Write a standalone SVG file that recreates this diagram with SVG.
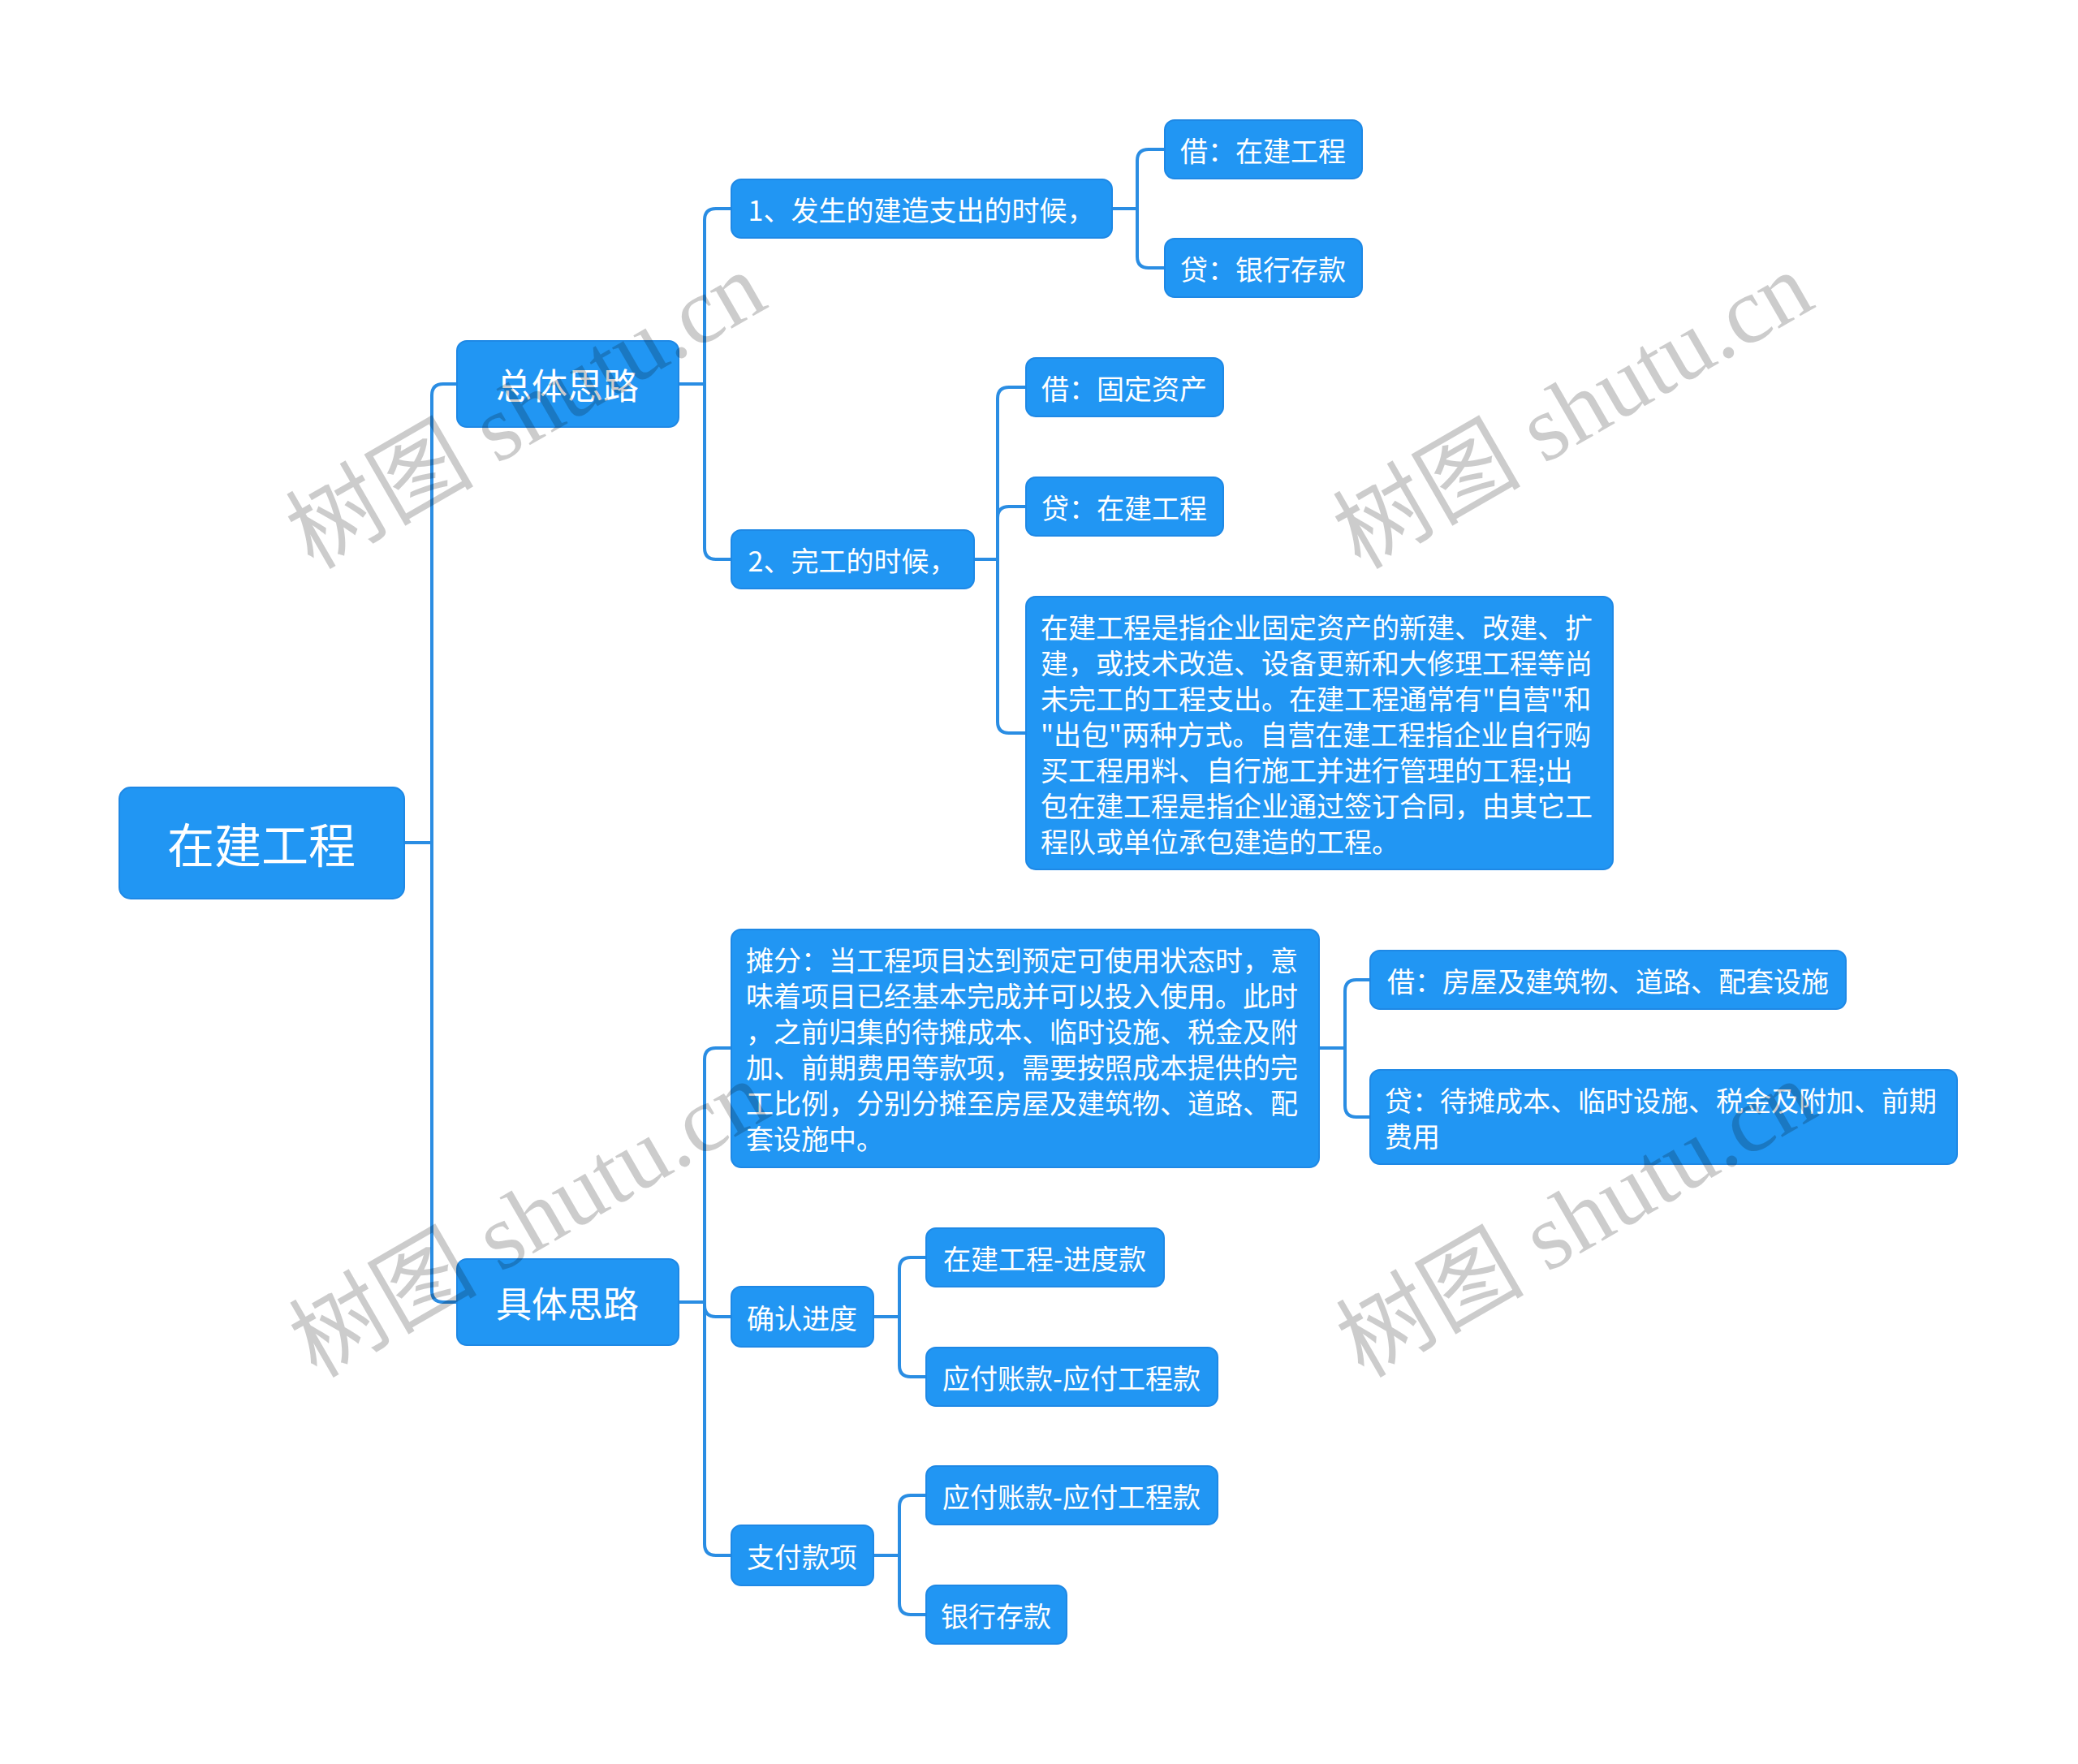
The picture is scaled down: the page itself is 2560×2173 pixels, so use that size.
<svg xmlns="http://www.w3.org/2000/svg" width="2560" height="2173" viewBox="0 0 2560 2173">
<style>
.n{fill:#2196F3;stroke:#1E88E5;stroke-width:2}
.t{font-family:"Noto Sans CJK SC","Liberation Sans",sans-serif;fill:#FFFFFF;dominant-baseline:central}
.c{text-anchor:middle}
.s34{font-size:34px}
.c path{fill:none}
.wm{font-family:"Liberation Serif","Noto Sans CJK SC",serif;font-size:116px;fill:#000;fill-opacity:0.2;text-anchor:middle;dominant-baseline:central}
</style>
<rect width="2560" height="2173" fill="#FFFFFF"/>
<g id="connectors" fill="none" stroke="#2A8DE3" stroke-width="4">
<path d="M498,1038 H532 V487 Q532,473 546,473 H563"/>
<path d="M498,1038 H532 V1590 Q532,1604 546,1604 H563"/>
<path d="M836,473 H868 V271 Q868,257 882,257 H901"/>
<path d="M836,473 H868 V675 Q868,689 882,689 H901"/>
<path d="M1370,257 H1401 V198 Q1401,184 1415,184 H1435"/>
<path d="M1370,257 H1401 V316 Q1401,330 1415,330 H1435"/>
<path d="M1200,689 H1229 V491 Q1229,477 1243,477 H1264"/>
<path d="M1200,689 H1229 V638 Q1229,624 1243,624 H1264"/>
<path d="M1200,689 H1229 V889 Q1229,903 1243,903 H1264"/>
<path d="M836,1604 H868 V1305 Q868,1291 882,1291 H901"/>
<path d="M836,1604 H868 V1608 Q868,1622 882,1622 H901"/>
<path d="M836,1604 H868 V1902 Q868,1916 882,1916 H901"/>
<path d="M1625,1291 H1657 V1221 Q1657,1207 1671,1207 H1688"/>
<path d="M1625,1291 H1657 V1362 Q1657,1376 1671,1376 H1688"/>
<path d="M1076,1622 H1108 V1563 Q1108,1549 1122,1549 H1141"/>
<path d="M1076,1622 H1108 V1682 Q1108,1696 1122,1696 H1141"/>
<path d="M1076,1916 H1108 V1856 Q1108,1842 1122,1842 H1141"/>
<path d="M1076,1916 H1108 V1975 Q1108,1989 1122,1989 H1141"/>
</g>
<g id="root"><rect class="n" x="147" y="970" width="351" height="137" rx="14"/><text class="t c" x="322" y="1038" font-size="58">在建工程</text></g>
<g id="n-zongti"><rect class="n" x="563" y="420" width="273" height="106" rx="12"/><text class="t c" x="699" y="473" font-size="44">总体思路</text></g>
<g id="n-juti"><rect class="n" x="563" y="1551" width="273" height="106" rx="12"/><text class="t c" x="699" y="1604" font-size="44">具体思路</text></g>
<g id="n-1"><rect class="n" x="901" y="221" width="469" height="72" rx="12"/><text class="t c s34" x="1135" y="257">1、发生的建造支出的时候，</text></g>
<g id="n-1a"><rect class="n" x="1435" y="148" width="243" height="72" rx="12"/><text class="t c s34" x="1556" y="184">借：在建工程</text></g>
<g id="n-1b"><rect class="n" x="1435" y="294" width="243" height="72" rx="12"/><text class="t c s34" x="1556" y="330">贷：银行存款</text></g>
<g id="n-2"><rect class="n" x="901" y="653" width="299" height="72" rx="12"/><text class="t c s34" x="1050" y="689">2、完工的时候，</text></g>
<g id="n-2a"><rect class="n" x="1264" y="441" width="243" height="72" rx="12"/><text class="t c s34" x="1385" y="477">借：固定资产</text></g>
<g id="n-2b"><rect class="n" x="1264" y="588" width="243" height="72" rx="12"/><text class="t c s34" x="1385" y="624">贷：在建工程</text></g>
<g id="n-2c"><rect class="n" x="1264" y="735" width="723" height="336" rx="12"/>
<text class="t s34" x="1282" y="771">在建工程是指企业固定资产的新建、改建、扩</text>
<text class="t s34" x="1282" y="815">建，或技术改造、设备更新和大修理工程等尚</text>
<text class="t s34" x="1282" y="859">未完工的工程支出。在建工程通常有"自营"和</text>
<text class="t s34" x="1282" y="903">"出包"两种方式。自营在建工程指企业自行购</text>
<text class="t s34" x="1282" y="947">买工程用料、自行施工并进行管理的工程;出</text>
<text class="t s34" x="1282" y="991">包在建工程是指企业通过签订合同，由其它工</text>
<text class="t s34" x="1282" y="1035">程队或单位承包建造的工程。</text></g>
<g id="n-tanfen"><rect class="n" x="901" y="1145" width="724" height="293" rx="12"/>
<text class="t s34" x="919" y="1181">摊分：当工程项目达到预定可使用状态时，意</text>
<text class="t s34" x="919" y="1225">味着项目已经基本完成并可以投入使用。此时</text>
<text class="t s34" x="919" y="1269">，之前归集的待摊成本、临时设施、税金及附</text>
<text class="t s34" x="919" y="1313">加、前期费用等款项，需要按照成本提供的完</text>
<text class="t s34" x="919" y="1357">工比例，分别分摊至房屋及建筑物、道路、配</text>
<text class="t s34" x="919" y="1401">套设施中。</text></g>
<g id="n-tf-a"><rect class="n" x="1688" y="1171" width="586" height="72" rx="12"/><text class="t c s34" x="1981" y="1207">借：房屋及建筑物、道路、配套设施</text></g>
<g id="n-tf-b"><rect class="n" x="1688" y="1318" width="723" height="116" rx="12"/>
<text class="t s34" x="1706" y="1354">贷：待摊成本、临时设施、税金及附加、前期</text>
<text class="t s34" x="1706" y="1398">费用</text></g>
<g id="n-queren"><rect class="n" x="901" y="1585" width="175" height="74" rx="12"/><text class="t c s34" x="988" y="1622">确认进度</text></g>
<g id="n-qr-a"><rect class="n" x="1141" y="1513" width="293" height="72" rx="12"/><text class="t c s34" x="1287" y="1549">在建工程-进度款</text></g>
<g id="n-qr-b"><rect class="n" x="1141" y="1660" width="359" height="72" rx="12"/><text class="t c s34" x="1320" y="1696">应付账款-应付工程款</text></g>
<g id="n-zhifu"><rect class="n" x="901" y="1879" width="175" height="74" rx="12"/><text class="t c s34" x="988" y="1916">支付款项</text></g>
<g id="n-zf-a"><rect class="n" x="1141" y="1806" width="359" height="72" rx="12"/><text class="t c s34" x="1320" y="1842">应付账款-应付工程款</text></g>
<g id="n-zf-b"><rect class="n" x="1141" y="1953" width="173" height="72" rx="12"/><text class="t c s34" x="1227" y="1989">银行存款</text></g>
<g id="watermarks">
<text class="wm" transform="translate(648,506) rotate(-30)">树图 shutu.cn</text>
<text class="wm" transform="translate(1938,506) rotate(-30)">树图 shutu.cn</text>
<text class="wm" transform="translate(652,1502) rotate(-30)">树图 shutu.cn</text>
<text class="wm" transform="translate(1942,1502) rotate(-30)">树图 shutu.cn</text>
</g>
</svg>
